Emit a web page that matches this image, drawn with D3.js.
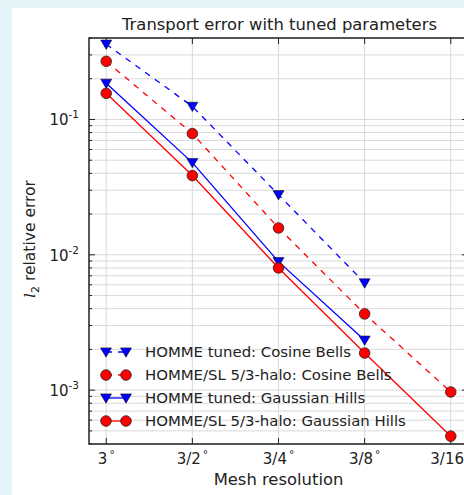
<!DOCTYPE html>
<html>
<head>
<meta charset="utf-8">
<script src="https://cdn.jsdelivr.net/npm/d3@7"></script>
<style>
  html, body { margin: 0; padding: 0; background: #e4f4f9; }
  svg { display: block; }
  text { font-family: "DejaVu Sans", sans-serif; fill: #222; }
</style>
</head>
<body>
<script>
// ---- data ----
const categories = ["3", "3/2", "3/4", "3/8", "3/16"];
const seriesNames = [
  "HOMME tuned: Cosine Bells",
  "HOMME/SL 5/3-halo: Cosine Bells",
  "HOMME tuned: Gaussian Hills",
  "HOMME/SL 5/3-halo: Gaussian Hills"
];
const hommeCosine = [0.36, 0.125, 0.0278, 0.0062, null];
const slCosine = [0.269, 0.0787, 0.0158, 0.00366, 0.00097];
const hommeGauss = [0.185, 0.048, 0.0089, 0.00234, null];
const slGauss = [0.156, 0.0385, 0.0080, 0.00188, 0.000457];
const yTickExps = [-3, -2, -1];
const title = "Transport error with tuned parameters";
const xTitle = "Mesh resolution";

const series = [
  { name: seriesNames[0], values: hommeCosine, color: "#0000ff", dash: "6,6", marker: "tri" },
  { name: seriesNames[1], values: slCosine, color: "#ff0000", dash: "6,6", marker: "circ" },
  { name: seriesNames[2], values: hommeGauss, color: "#0000ff", dash: null, marker: "tri" },
  { name: seriesNames[3], values: slGauss, color: "#ff0000", dash: null, marker: "circ" }
];

const W = 464, H = 495;
const L = 89, R = 468, T = 38, B = 444;

const svg = d3.select("body").append("svg").attr("width", W).attr("height", H);
// white panel
svg.append("rect").attr("x", 12).attr("y", 8).attr("width", W - 12).attr("height", H - 8).attr("fill", "#fff");

const x = d3.scaleLinear().domain([-0.2, categories.length - 1 + 0.2]).range([L, R]);
const y = d3.scaleLog().domain([4e-4, 0.4]).range([B, T]);

const defs = svg.append("defs");
defs.append("clipPath").attr("id", "clip").append("rect")
  .attr("x", L).attr("y", T).attr("width", R - L).attr("height", B - T);

// grid
const g = svg.append("g");
const minorTicks = y.ticks(30).filter(v => v >= 4e-4 && v <= 0.4);
g.selectAll(".hg").data(minorTicks).enter().append("line")
  .attr("x1", L).attr("x2", R)
  .attr("y1", d => y(d)).attr("y2", d => y(d))
  .attr("stroke", "#d9d9d9").attr("stroke-width", 1);
g.selectAll(".vg").data(categories).enter().append("line")
  .attr("x1", (d, i) => x(i)).attr("x2", (d, i) => x(i))
  .attr("y1", T).attr("y2", B)
  .attr("stroke", "#d9d9d9").attr("stroke-width", 1);

// ticks (inward) on all four sides
const majorVals = yTickExps.map(e => Math.pow(10, e));
const isMajor = v => majorVals.some(m => Math.abs(v / m - 1) < 1e-6);
minorTicks.forEach(v => {
  const len = isMajor(v) ? 6 : 3;
  g.append("line").attr("x1", L).attr("x2", L + len).attr("y1", y(v)).attr("y2", y(v)).attr("stroke", "#222").attr("stroke-width", 1);
  g.append("line").attr("x1", R).attr("x2", R - len).attr("y1", y(v)).attr("y2", y(v)).attr("stroke", "#222").attr("stroke-width", 1);
});
categories.forEach((c, i) => {
  g.append("line").attr("x1", x(i)).attr("x2", x(i)).attr("y1", B).attr("y2", B - 6).attr("stroke", "#222").attr("stroke-width", 1);
  g.append("line").attr("x1", x(i)).attr("x2", x(i)).attr("y1", T).attr("y2", T + 6).attr("stroke", "#222").attr("stroke-width", 1);
});

// data lines + markers
const plot = svg.append("g").attr("clip-path", "url(#clip)");
const line = d3.line().defined(d => d.v != null).x(d => x(d.i)).y(d => y(d.v));

function drawMarker(sel, type, cx, cy, color) {
  if (type === "tri") {
    const s = 5.5;
    sel.append("path")
      .attr("d", `M${cx - s},${cy - s * 0.75} L${cx + s},${cy - s * 0.75} L${cx},${cy + s * 0.95} Z`)
      .attr("fill", color).attr("stroke", "#111").attr("stroke-width", 0.6);
  } else {
    sel.append("circle").attr("cx", cx).attr("cy", cy).attr("r", 5.3)
      .attr("fill", color).attr("stroke", "#222").attr("stroke-width", 0.8);
  }
}

series.forEach(s => {
  const pts = s.values.map((v, i) => ({ i, v }));
  plot.append("path").datum(pts).attr("d", line)
    .attr("fill", "none").attr("stroke", s.color).attr("stroke-width", 1.3)
    .attr("stroke-dasharray", s.dash);
  const mg = svg.append("g");
  pts.filter(p => p.v != null).forEach(p => drawMarker(mg, s.marker, x(p.i), y(p.v), s.color));
});

// frame
svg.append("rect").attr("x", L).attr("y", T).attr("width", R - L).attr("height", B - T)
  .attr("fill", "none").attr("stroke", "#222").attr("stroke-width", 1.5);

// y tick labels
yTickExps.forEach(e => {
  const t = svg.append("text").attr("x", 79).attr("y", y(Math.pow(10, e)) + 6)
    .attr("text-anchor", "end").attr("font-size", 15);
  t.append("tspan").text("10");
  t.append("tspan").attr("font-size", 10.5).attr("dy", -7).text("-" + Math.abs(e));
});

// x tick labels
categories.forEach((c, i) => {
  const t = svg.append("text").attr("x", x(i)).attr("y", 464)
    .attr("text-anchor", "middle").attr("font-size", 15);
  t.append("tspan").text(c);
  t.append("tspan").attr("font-size", 10.5).attr("dy", -6).attr("dx", 2).text("°");
});

// title & axis labels
svg.append("text").attr("x", (L + R) / 2 + 1).attr("y", 30).attr("text-anchor", "middle")
  .attr("font-size", 16.4).text(title);
svg.append("text").attr("x", (L + R) / 2).attr("y", 485).attr("text-anchor", "middle")
  .attr("font-size", 16.4).text(xTitle);
const yl = svg.append("text").attr("transform", `translate(35,${(T + B) / 2 - 2}) rotate(-90)`)
  .attr("text-anchor", "middle").attr("font-size", 15.5);
yl.append("tspan").attr("font-family", "DejaVu Serif").attr("font-style", "italic").text("l");
yl.append("tspan").attr("font-size", 11).attr("dy", 4).text("2");
yl.append("tspan").attr("dy", -4).text(" relative error");

// legend
const legY = [352, 375, 398, 421];
series.forEach((s, k) => {
  const ly = legY[k];
  svg.append("line").attr("x1", 106).attr("x2", 126).attr("y1", ly).attr("y2", ly)
    .attr("stroke", s.color).attr("stroke-width", 1.3).attr("stroke-dasharray", s.dash);
  const lg = svg.append("g");
  drawMarker(lg, s.marker, 106, ly, s.color);
  drawMarker(lg, s.marker, 126, ly, s.color);
  svg.append("text").attr("x", 145).attr("y", ly + 5).attr("font-size", 14.9).text(s.name);
});
</script>
</body>
</html>
